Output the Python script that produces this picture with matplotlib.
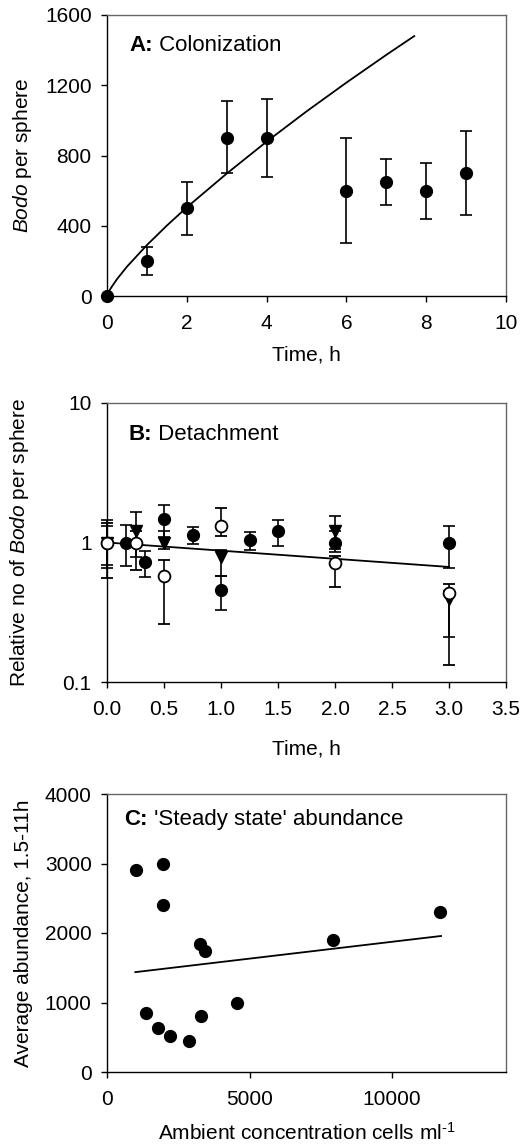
import numpy as np
import matplotlib
matplotlib.use('Agg')
import matplotlib.pyplot as plt

plt.rcParams['font.family'] = ['Liberation Sans', 'DejaVu Sans']
plt.rcParams['mathtext.fontset'] = 'custom'
plt.rcParams['mathtext.rm'] = 'Liberation Sans'
plt.rcParams['mathtext.it'] = 'Liberation Sans:italic'
plt.rcParams['mathtext.bf'] = 'Liberation Sans:bold'
plt.rcParams['font.size'] = 15

# A: colonization
a_t = [0, 1, 2, 3, 4, 6, 7, 8, 9]
a_n = [0, 200, 500, 900, 900, 600, 650, 600, 700]
a_lo = [0, 120, 350, 700, 680, 300, 520, 440, 460]
a_hi = [0, 280, 650, 1110, 1120, 900, 780, 760, 940]
a_fit_t = [0, 0.05, 0.1, 0.25, 0.5, 1, 1.5, 2, 3, 4, 5, 6, 7, 7.7]
a_fit_n = [0, 26, 46, 96, 167, 290, 401, 505, 697, 879, 1051, 1215, 1373, 1480]

# B: detachment (three runs, relative numbers)
b1_t = [0, 0.17, 0.33, 0.5, 0.75, 1.0, 1.25, 1.5, 2.0, 3.0]
b1_n = [1.0, 1.0, 0.72, 1.47, 1.14, 0.454, 1.036, 1.21, 1.0, 1.0]
b1_lo = [0.694, 0.683, 0.566, 1.1, 0.98, 0.327, 0.89, 0.95, 0.855, 0.66]
b1_hi = [1.458, 1.34, 0.87, 1.87, 1.29, 0.58, 1.19, 1.46, 1.2, 1.32]
b2_t = [0, 0.25, 0.5, 1.0, 2.0, 3.0]
b2_n = [1.0, 1.0, 0.575, 1.306, 0.713, 0.435]
b2_lo = [0.557, 0.639, 0.259, 1.12, 0.48, 0.133]
b2_hi = [1.38, 1.2, 0.75, 1.77, 0.8, 0.5]
b3_t = [0, 0.25, 0.5, 1.0, 2.0, 3.0]
b3_n = [1.0, 1.2, 1.0, 0.787, 1.2, 0.396]
b3_lo = [0.657, 0.787, 0.9, 0.58, 0.9, 0.21]
b3_hi = [1.306, 1.654, 1.2, 0.88, 1.54, 0.45]
b_fit_t = [0, 3.0]
b_fit_n = [1.0, 0.668]

# C: steady state abundance
c_conc = [1000, 1950, 1950, 1370, 1790, 2200, 2870, 3270, 3440, 3300, 4570, 7940, 11700]
c_abund = [2900, 3000, 2400, 850, 635, 514, 447, 1837, 1740, 808, 1000, 1894, 2298]
c_fit_x = [995, 11720]
c_fit_y = [1437, 1957]

W, H = 528, 1144
fig = plt.figure(figsize=(W / 100, H / 100), dpi=100)


def style(ax):
    ax.spines['top'].set_color('#666666')
    ax.spines['right'].set_color('#666666')
    for s in ax.spines.values():
        s.set_linewidth(1.0)
    ax.tick_params(direction='out', length=4, width=1, top=False, right=False, labelsize=15)
    ax.tick_params(axis='x', pad=9)
    ax.tick_params(axis='y', pad=7)


def title(ax, x, y, bold, rest):
    t = ax.text(x, y, bold, transform=ax.transAxes, va='bottom', fontsize=16, weight='bold')
    ax.annotate(rest, xy=(1, 0), xycoords=t, va='bottom', fontsize=16)


def errs(n, lo, hi):
    n = np.array(n); return [n - np.array(lo), np.array(hi) - n]


# panel A
ax = fig.add_axes([107 / W, 1 - 296 / H, 399 / W, 281 / H])
ax.plot(a_fit_t, a_fit_n, color='black', lw=1.3)
ax.errorbar(a_t, a_n, yerr=errs(a_n, a_lo, a_hi), fmt='o', color='black', ms=8.5,
            capsize=4, elinewidth=1.2, capthick=1.2, clip_on=False, zorder=3)
ax.set_xlim(0, 10)
ax.set_ylim(0, 1600)
ax.set_xticks(range(0, 11, 2))
ax.set_yticks(range(0, 1601, 400))
ax.set_xlabel('Time, h', labelpad=9)
ax.set_ylabel(r'$\mathit{Bodo}$ per sphere', labelpad=8)
title(ax, 0.055, 0.855, 'A:', ' Colonization')
style(ax)

# panel B
ax = fig.add_axes([107 / W, 1 - 682 / H, 399 / W, 279 / H])
ax.set_yscale('log')
ax.plot(b_fit_t, b_fit_n, color='black', lw=1.3)
kw = dict(color='black', ms=8.5, capsize=4, elinewidth=1.2, capthick=1.2, clip_on=False, zorder=3)
ax.errorbar(b3_t, b3_n, yerr=errs(b3_n, b3_lo, b3_hi), fmt='v', **kw)
ax.errorbar(b1_t, b1_n, yerr=errs(b1_n, b1_lo, b1_hi), fmt='o', **kw)
ax.errorbar(b2_t, b2_n, yerr=errs(b2_n, b2_lo, b2_hi), fmt='o', mfc='white', mew=1.3, **kw)
ax.set_xlim(0, 3.5)
ax.set_ylim(0.1, 10)
ax.set_xticks(np.arange(0, 3.51, 0.5))
ax.set_xticklabels(['%.1f' % v for v in np.arange(0, 3.51, 0.5)])
ax.set_yticks([0.1, 1, 10])
ax.set_yticklabels(['0.1', '1', '10'])
ax.yaxis.set_minor_locator(matplotlib.ticker.NullLocator())
ax.set_xlabel('Time, h', labelpad=15)
ax.set_ylabel(r'Relative no of $\mathit{Bodo}$ per sphere', labelpad=23)
title(ax, 0.053, 0.85, 'B:', ' Detachment')
style(ax)

# panel C
ax = fig.add_axes([107 / W, 1 - 1072 / H, 399 / W, 278 / H])
ax.plot(c_fit_x, c_fit_y, color='black', lw=1.3)
ax.plot(c_conc, c_abund, 'o', color='black', ms=8.5, zorder=3)
ax.set_xlim(0, 14000)
ax.set_ylim(0, 4000)
ax.set_xticks([0, 5000, 10000])
ax.set_yticks(range(0, 4001, 1000))
ax.set_xlabel('Ambient concentration cells ml$^{\\mathregular{\u2010}1}$', labelpad=9.5)
ax.set_ylabel('Average abundance, 1.5-11h', labelpad=8.6)
title(ax, 0.043, 0.87, 'C:', " 'Steady state' abundance")
style(ax)

fig.savefig('out.png', dpi=100)
